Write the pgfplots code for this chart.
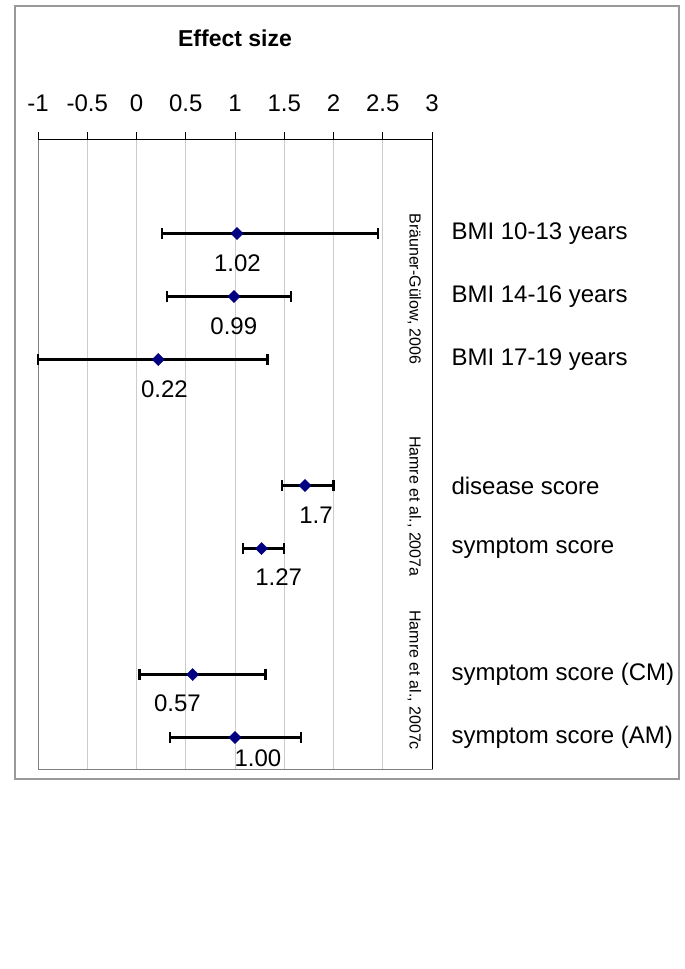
\documentclass[border=0pt]{standalone}
\usepackage{pgfplots}
\pgfplotsset{compat=1.18}
\usepackage{pgfplotstable}
\usepackage{fontspec}
\setmainfont{Liberation Sans}
\definecolor{navyblue}{RGB}{0,0,128}
\pgfplotstableread{
x y ep em
1.02 0 1.43 0.76
0.99 1 0.58 0.68
0.22 2 1.11 1.22
1.71 4 0.29 0.23
1.27 5 0.23 0.19
0.57 7 0.74 0.54
1.00 8 0.67 0.66
}\effects
\pgfplotstableread{
x y lab
1.025 0.468 1.02
0.988 1.479 0.99
0.284 2.468 0.22
1.822 4.468 1.7
1.443 5.448 1.27
0.416 7.452 0.57
1.233 8.325 1.00
}\vlabels
\begin{document}
\begin{tikzpicture}
\path[use as bounding box] (0,0) rectangle (685bp,-969bp);
\draw[gray!80, line width=1.5bp] (15bp,-6bp) rectangle (679bp,-779bp);
\begin{axis}[
  at={(38bp,-769bp)}, anchor=south west,
  scale only axis, width=394bp, height=630bp,
  xmin=-1, xmax=3, ymin=-1.5, ymax=8.5, y dir=reverse,
  clip=false,
  axis line style={draw=gray, line width=1bp},
  xtick={-1,-0.5,0,0.5,1,1.5,2,2.5,3},
  xticklabels={-1,-0.5,0,0.5,1,1.5,2,2.5,3},
  xtick pos=right, xticklabel pos=right,
  tick align=outside, major tick length=7bp,
  xtick style={black, line width=0.8bp},
  xmajorgrids, grid style={gray!40, line width=0.8bp},
  xticklabel style={font=\fontsize{24bp}{28bp}\selectfont, anchor=south, yshift=17bp},
  ytick={0,1,2,4,5,7,8},
  yticklabels={BMI 10-13 years,BMI 14-16 years,BMI 17-19 years,disease score,symptom score,symptom score (CM),symptom score (AM)},
  yticklabel pos=right, ytick style={draw=none},
  yticklabel style={font=\fontsize{24bp}{28bp}\selectfont, anchor=west, xshift=9bp},
  title={Effect size},
  title style={font=\bfseries\fontsize{23bp}{28bp}\selectfont, at={(0.5,1)}, anchor=center, yshift=95bp},
]
\draw[black, line width=1bp] (rel axis cs:0,1) -- (rel axis cs:1,1) -- (rel axis cs:1,0);
\addplot[only marks, mark=square*, mark size=4.3bp, mark options={rotate=45, fill=navyblue, draw=navyblue},
  error bars/.cd, x dir=both, x explicit,
  error bar style={black, line width=2.4bp},
  error mark options={black, line width=2.4bp, mark size=5.5bp, rotate=90}]
  table[x=x, y=y, x error plus=ep, x error minus=em] {\effects};
\addplot[only marks, mark=none, nodes near coords, point meta=explicit symbolic,
  nodes near coords style={anchor=center, font=\fontsize{24bp}{28bp}\selectfont, inner sep=0pt}]
  table[x=x, y=y, meta=lab] {\vlabels};
\node[rotate=-90, font=\fontsize{16bp}{19bp}\selectfont] at (axis cs:2.82,0.88) {Bräuner-Gülow, 2006};
\node[rotate=-90, font=\fontsize{16bp}{19bp}\selectfont] at (axis cs:2.82,4.33) {Hamre et al., 2007a};
\node[rotate=-90, font=\fontsize{16bp}{19bp}\selectfont] at (axis cs:2.82,7.09) {Hamre et al., 2007c};
\end{axis}
\end{tikzpicture}
\end{document}
